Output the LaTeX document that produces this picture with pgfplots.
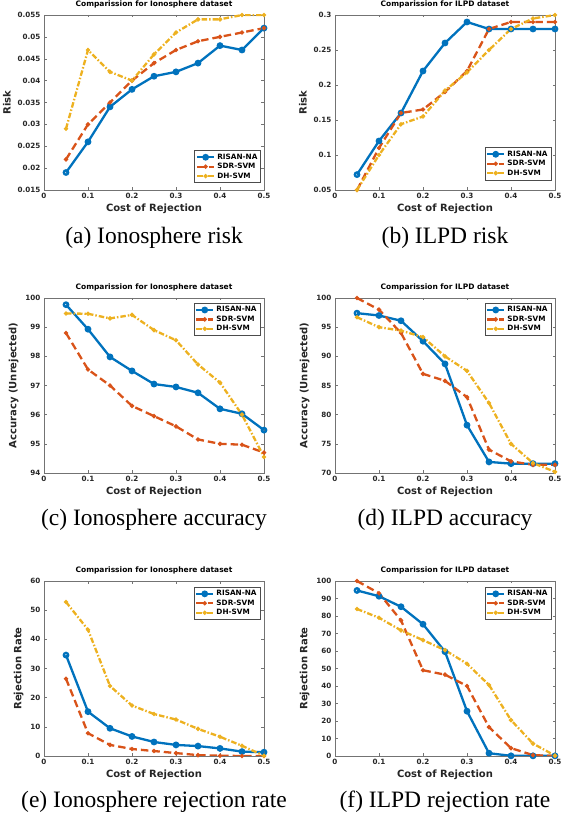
\documentclass[border=0pt]{standalone}
\usepackage{fontspec}
\setmainfont{DejaVu Sans}
\newfontfamily\capfont{Liberation Serif}
\usepackage{pgfplots}
\pgfplotsset{compat=1.18}
\definecolor{mblue}{rgb}{0,0.447,0.741}
\definecolor{morange}{rgb}{0.85,0.325,0.098}
\definecolor{myellow}{rgb}{0.929,0.694,0.125}

\pgfplotsset{
  cmp/.style={
    scale only axis, width=220pt, height=175pt,
    xmin=0, xmax=0.5, xtick={0,0.1,0.2,0.3,0.4,0.5},
    tick align=inside, major tick length=2.5pt,
    axis line style={black!55, line width=0.5pt},
    every tick/.style={black!55},
    tick label style={font=\fontsize{7.2}{8}\selectfont\bfseries, text=black!85},
    /pgf/number format/assume math mode=true,
    /pgf/number format/fixed, /pgf/number format/precision=3,
    scaled y ticks=false, scaled x ticks=false,
    xlabel={Cost of Rejection},
    label style={font=\fontsize{10}{12}\selectfont\bfseries, text=black!85},
    xlabel style={yshift=2pt},
    title style={font=\fontsize{7.5}{9}\selectfont\bfseries, yshift=-3pt},
    legend style={font=\fontsize{7.3}{8}\selectfont\bfseries, draw=black!70,
      line width=0.5pt, inner sep=1.2pt, row sep=-1.5pt},
    legend cell align=left,
  },
  risan/.style={color=mblue, line width=2.3pt, mark=o, mark size=2.2pt, mark options={solid}},
  sdr/.style={color=morange, line width=2.3pt, dash pattern=on 7.5pt off 4pt,
    mark=*, mark size=0.8pt, mark options={solid}},
  dh/.style={color=myellow, line width=2.3pt, dash pattern=on 5.5pt off 2pt on 1.5pt off 2pt,
    mark=*, mark size=0.8pt, mark options={solid}},
}

\begin{document}
\begin{tikzpicture}
\path[use as bounding box] (0,0) rectangle (560pt,819pt);

% (a) Ionosphere risk
\begin{axis}[cmp, at={(44pt,629pt)}, anchor=south west,
  title={Comparission for Ionosphere dataset}, ylabel={Risk},
  ymin=0.015, ymax=0.055,
  ytick={0.015,0.02,0.025,0.03,0.035,0.04,0.045,0.05,0.055},
  legend style={at={(0.986,0.04)}, anchor=south east}]
\addplot[risan] coordinates {(0.05,0.019)(0.1,0.026)(0.15,0.034)(0.2,0.038)(0.25,0.041)
  (0.3,0.042)(0.35,0.044)(0.4,0.048)(0.45,0.047)(0.5,0.052)};
\addplot[sdr] coordinates {(0.05,0.022)(0.1,0.030)(0.15,0.035)(0.2,0.040)(0.25,0.044)
  (0.3,0.047)(0.35,0.049)(0.4,0.050)(0.45,0.051)(0.5,0.052)};
\addplot[dh] coordinates {(0.05,0.029)(0.1,0.047)(0.15,0.042)(0.2,0.040)(0.25,0.046)
  (0.3,0.051)(0.35,0.054)(0.4,0.054)(0.45,0.055)(0.5,0.055)};
\legend{RISAN-NA,SDR-SVM,DH-SVM}
\end{axis}

% (b) ILPD risk
\begin{axis}[cmp, at={(335pt,629pt)}, anchor=south west,
  title={Comparission for ILPD dataset}, ylabel={Risk},
  ymin=0.05, ymax=0.3, ytick={0.05,0.1,0.15,0.2,0.25,0.3},
  legend style={at={(0.982,0.057)}, anchor=south east}]
\addplot[risan] coordinates {(0.05,0.072)(0.1,0.12)(0.15,0.16)(0.2,0.22)(0.25,0.26)
  (0.3,0.29)(0.35,0.28)(0.4,0.28)(0.45,0.28)(0.5,0.28)};
\addplot[sdr] coordinates {(0.05,0.05)(0.1,0.11)(0.15,0.16)(0.2,0.165)(0.25,0.19)
  (0.3,0.22)(0.35,0.28)(0.4,0.29)(0.45,0.29)(0.5,0.29)};
\addplot[dh] coordinates {(0.05,0.05)(0.1,0.10)(0.15,0.144)(0.2,0.155)(0.25,0.192)
  (0.3,0.218)(0.35,0.25)(0.4,0.28)(0.45,0.295)(0.5,0.30)};
\legend{RISAN-NA,SDR-SVM,DH-SVM}
\end{axis}

% (c) Ionosphere accuracy
\begin{axis}[cmp, at={(44pt,346pt)}, anchor=south west,
  title={Comparission for Ionosphere dataset}, ylabel={Accuracy (Unrejected)},
  ymin=94, ymax=100, ytick={94,95,...,100},
  legend style={at={(0.982,0.971)}, anchor=north east}]
\addplot[risan] coordinates {(0.05,99.77)(0.1,98.93)(0.15,97.98)(0.2,97.5)(0.25,97.05)
  (0.3,96.95)(0.35,96.75)(0.4,96.2)(0.45,96.03)(0.5,95.47)};
\addplot[sdr] coordinates {(0.05,98.8)(0.1,97.55)(0.15,97.0)(0.2,96.3)(0.25,95.95)
  (0.3,95.6)(0.35,95.15)(0.4,95.0)(0.45,94.97)(0.5,94.7)};
\addplot[dh] coordinates {(0.05,99.47)(0.1,99.46)(0.15,99.3)(0.2,99.42)(0.25,98.9)
  (0.3,98.55)(0.35,97.72)(0.4,97.1)(0.45,96.0)(0.5,94.55)};
\legend{RISAN-NA,SDR-SVM,DH-SVM}
\end{axis}

% (d) ILPD accuracy
\begin{axis}[cmp, at={(335pt,346pt)}, anchor=south west,
  title={Comparission for ILPD dataset}, ylabel={Accuracy (Unrejected)},
  ymin=70, ymax=100, ytick={70,75,...,100},
  legend style={at={(0.982,0.971)}, anchor=north east}]
\addplot[risan] coordinates {(0.05,97.4)(0.1,97.0)(0.15,96.1)(0.2,92.6)(0.25,88.7)
  (0.3,78.2)(0.35,71.9)(0.4,71.6)(0.45,71.6)(0.5,71.6)};
\addplot[sdr] coordinates {(0.05,100)(0.1,98.0)(0.15,94.0)(0.2,87.0)(0.25,85.8)
  (0.3,83.0)(0.35,74.0)(0.4,72.0)(0.45,71.4)(0.5,71.4)};
\addplot[dh] coordinates {(0.05,96.7)(0.1,95.0)(0.15,94.4)(0.2,93.3)(0.25,90.0)
  (0.3,87.5)(0.35,82.0)(0.4,75.0)(0.45,71.7)(0.5,70.2)};
\legend{RISAN-NA,SDR-SVM,DH-SVM}
\end{axis}

% (e) Ionosphere rejection rate
\begin{axis}[cmp, at={(44pt,63pt)}, anchor=south west,
  title={Comparission for Ionosphere dataset}, ylabel={Rejection Rate},
  ymin=0, ymax=60, ytick={0,10,...,60},
  legend style={at={(0.982,0.966)}, anchor=north east}]
\addplot[risan] coordinates {(0.05,34.6)(0.1,15.2)(0.15,9.5)(0.2,6.7)(0.25,4.8)
  (0.3,3.8)(0.35,3.4)(0.4,2.6)(0.45,1.5)(0.5,1.3)};
\addplot[sdr] coordinates {(0.05,26.5)(0.1,7.8)(0.15,3.8)(0.2,2.4)(0.25,1.7)
  (0.3,1.0)(0.35,0.3)(0.4,0.1)(0.45,0)(0.5,0)};
\addplot[dh] coordinates {(0.05,52.8)(0.1,43.3)(0.15,24.0)(0.2,17.3)(0.25,14.4)
  (0.3,12.5)(0.35,9.3)(0.4,6.6)(0.45,3.5)(0.5,0.1)};
\legend{RISAN-NA,SDR-SVM,DH-SVM}
\end{axis}

% (f) ILPD rejection rate
\begin{axis}[cmp, at={(335pt,63pt)}, anchor=south west,
  title={Comparission for ILPD dataset}, ylabel={Rejection Rate},
  ymin=0, ymax=100, ytick={0,10,...,100},
  legend style={at={(0.982,0.966)}, anchor=north east}]
\addplot[risan] coordinates {(0.05,94.6)(0.1,91.3)(0.15,85.3)(0.2,75.3)(0.25,59.6)
  (0.3,25.6)(0.35,1.6)(0.4,0.1)(0.45,0.1)(0.5,0.1)};
\addplot[sdr] coordinates {(0.05,100)(0.1,93.0)(0.15,77.5)(0.2,49.0)(0.25,46.5)
  (0.3,40.0)(0.35,16.5)(0.4,4.5)(0.45,0.5)(0.5,0)};
\addplot[dh] coordinates {(0.05,84.0)(0.1,79.0)(0.15,71.8)(0.2,66.2)(0.25,60.5)
  (0.3,52.7)(0.35,40.6)(0.4,20.5)(0.45,7.1)(0.5,0.2)};
\legend{RISAN-NA,SDR-SVM,DH-SVM}
\end{axis}

\begin{scope}[every node/.style={anchor=base, font=\capfont\fontsize{23.5}{28}\selectfont}]
\node at (154pt,575pt) {(a) Ionosphere risk};
\node at (445pt,575pt) {(b) ILPD risk};
\node at (154pt,293pt) {(c) Ionosphere accuracy};
\node at (445pt,293pt) {(d) ILPD accuracy};
\node at (154pt,11pt) {(e) Ionosphere rejection rate};
\node at (445pt,11pt) {(f) ILPD rejection rate};
\end{scope}
\end{tikzpicture}
\end{document}
